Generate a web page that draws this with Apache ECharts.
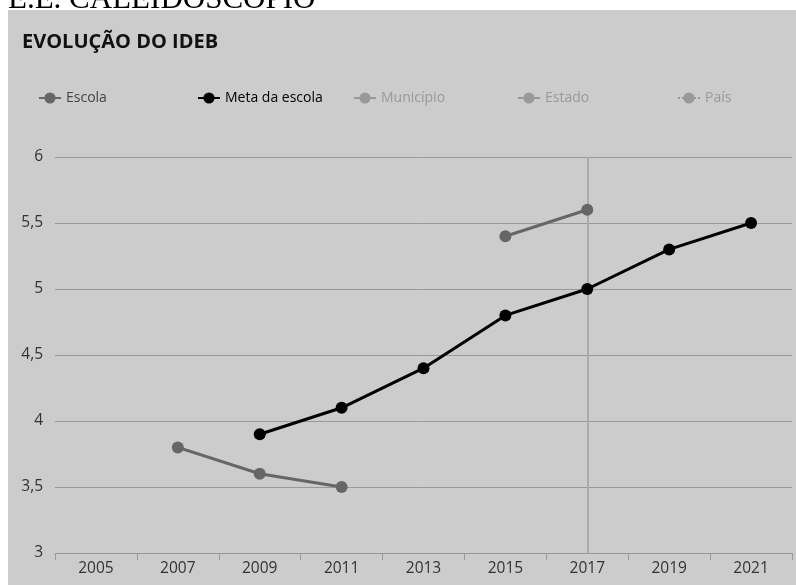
<!DOCTYPE html>
<html>
<head>
<meta charset="utf-8">
<script src="https://cdn.jsdelivr.net/npm/echarts@6/dist/echarts.min.js"></script>
<style>
  html, body { margin: 0; padding: 0; background: #fff; }
  #chart { width: 796px; height: 585px; }
</style>
</head>
<body>
<div id="chart"></div>
<script>
// anos do eixo x
const anos = ['2005', '2007', '2009', '2011', '2013', '2015', '2017', '2019', '2021']
// IDEB observado da escola (null = sem nota)
const escola = [null, 3.8, 3.6, 3.5, null, 5.4, 5.6, null, null]
// meta projetada para a escola
const metaEscola = [null, null, 3.9, 4.1, 4.4, 4.8, 5.0, 5.3, 5.5]
// comparativos sem dados nesta visão
const municipio = []
const estado = []
const pais = []
const anoDestaque = '2017'

const fonte = '"Open Sans", "DejaVu Sans", sans-serif'

const myChart = echarts.init(document.getElementById('chart'))

function legenda (nome, left, cor) {
  return {
    data: [nome],
    left: left,
    top: 86,
    itemWidth: 22,
    itemHeight: 14,
    selectedMode: false,
    textStyle: { color: cor, fontSize: 14, fontFamily: fonte }
  }
}

myChart.setOption({
  backgroundColor: '#fff',
  animation: false,
  graphic: [
    {
      type: 'rect',
      z: -10,
      shape: { x: 8, y: 10, width: 788, height: 575 },
      style: { fill: '#cccccc' }
    },
    {
      type: 'text',
      left: 8,
      top: -16,
      style: {
        text: 'E.E. CALEIDOSCOPIO',
        font: '31px "Liberation Serif", serif',
        fill: '#000'
      }
    }
  ],
  title: {
    text: 'EVOLUÇÃO DO IDEB',
    left: 17,
    top: 27,
    textStyle: {
      color: '#111',
      fontSize: 20,
      fontWeight: 'bold',
      fontFamily: fonte
    }
  },
  legend: [
    legenda('Escola', 33, '#444'),
    legenda('Meta da escola', 192, '#000'),
    legenda('Município', 348, '#999'),
    legenda('Estado', 512, '#999'),
    legenda('País', 672, '#999')
  ],
  grid: {
    left: 55,
    right: 4,
    top: 157,
    bottom: 32
  },
  xAxis: {
    type: 'category',
    data: anos,
    boundaryGap: true,
    axisLine: { lineStyle: { color: '#999', width: 1 } },
    axisTick: { show: true, length: 7, lineStyle: { color: '#999' } },
    axisLabel: { color: '#333', fontSize: 15.5, fontFamily: fonte, margin: 8 },
    splitLine: { show: false }
  },
  yAxis: {
    type: 'value',
    min: 3,
    max: 6,
    interval: 0.5,
    axisLine: { show: false },
    axisTick: { show: false },
    axisLabel: {
      color: '#333',
      fontSize: 15.5,
      fontFamily: fonte,
      margin: 12,
      formatter: (v) => String(v).replace('.', ',')
    },
    splitLine: { lineStyle: { color: '#999', width: 1 } }
  },
  series: [
    {
      // linha vertical do ano em destaque, atrás das séries
      name: 'destaque',
      type: 'line',
      data: [],
      z: 1,
      silent: true,
      markLine: {
        silent: true,
        z: 1,
        symbol: 'none',
        label: { show: false },
        lineStyle: { color: '#aaa', width: 2, type: 'solid' },
        data: [{ xAxis: anoDestaque }]
      }
    },
    {
      name: 'Escola',
      type: 'line',
      data: escola,
      connectNulls: false,
      symbol: 'circle',
      symbolSize: 12,
      itemStyle: { color: '#666' },
      lineStyle: { color: '#666', width: 3 },
      z: 3
    },
    {
      name: 'Meta da escola',
      type: 'line',
      data: metaEscola,
      symbol: 'circle',
      symbolSize: 12,
      itemStyle: { color: '#000' },
      lineStyle: { color: '#000', width: 3 },
      z: 4
    },
    {
      name: 'Município',
      type: 'line',
      data: municipio,
      symbol: 'circle',
      itemStyle: { color: '#999' },
      lineStyle: { color: '#999', width: 3 }
    },
    {
      name: 'Estado',
      type: 'line',
      data: estado,
      symbol: 'circle',
      itemStyle: { color: '#999' },
      lineStyle: { color: '#999', width: 3 }
    },
    {
      name: 'País',
      type: 'line',
      data: pais,
      symbol: 'circle',
      itemStyle: { color: '#999' },
      lineStyle: { color: '#999', width: 3, type: 'dotted' }
    }
  ]
})
</script>
</body>
</html>
